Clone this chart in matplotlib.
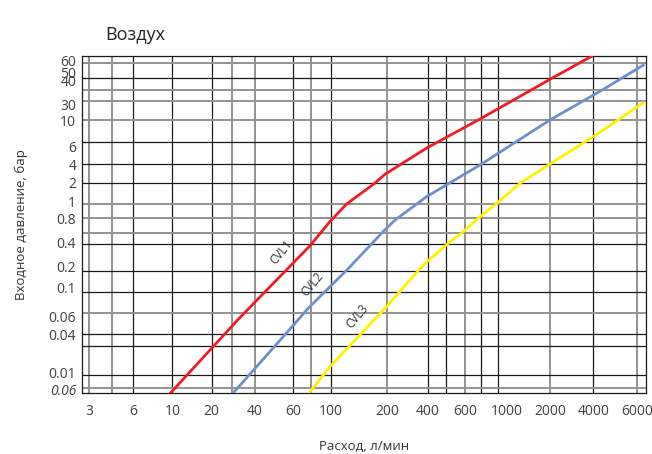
import numpy as np
import matplotlib
matplotlib.use("Agg")
import matplotlib.pyplot as plt

plt.rcParams['font.family'] = ['Open Sans', 'DejaVu Sans']

# ---- data (flow l/min, inlet pressure bar) ----
x_ticks = [3, 6, 10, 20, 40, 60, 100, 200, 400, 600, 1000, 2000, 4000, 6000]
x_tick_labels = ["3", "6", "10", "20", "40", "60", "100", "200", "400", "600",
                 "1000", "2000", "4000", "6000"]
y_ticks = [0.006, 0.01, 0.04, 0.06, 0.1, 0.2, 0.4, 0.8, 1, 2, 4, 6, 10, 30, 40, 50, 60]
y_tick_labels = ["0.06", "0.01", "0.04", "0.06", "0.1", "0.2", "0.4", "0.8", "1",
                 "2", "4", "6", "10", "30", "40", "50", "60"]

cvl1_flow = [9.8, 31, 76, 99, 122, 172, 195, 393, 720, 2000, 3900]
cvl1_pres = [0.0054, 0.057, 0.37, 0.73, 0.97, 1.98, 2.8, 5.8, 11.1, 41.7, 65]

cvl2_flow = [28.3, 56, 74, 99, 122, 191, 229, 393, 720, 2000, 4390, 6340]
cvl2_pres = [0.0054, 0.0415, 0.069, 0.102, 0.18, 0.55, 0.76, 1.2, 4, 10.4, 36.2, 56]

cvl3_flow = [75, 99, 146, 199, 371, 510, 589, 720, 900, 1233, 2000, 4000, 6340]
cvl3_pres = [0.0054, 0.0125, 0.0415, 0.071, 0.212, 0.411, 0.547, 0.817, 0.993,
             1.98, 4.09, 7.27, 30.8]

curve_names = ["CVL1", "CVL2", "CVL3"]
label_flow = [53, 78, 138]
label_pres = [0.307, 0.112, 0.06]

# ---- layout: the axis of the original is not a regular log scale,
# so positions of ticks/grid are given in reference-pixel units ----
x_tick_px = [89, 133.3, 172.3, 211.7, 255, 292.7, 330.7, 387, 427.7, 465, 507,
             550, 593.3, 637.3]
y_tick_px = [389.3, 372.7, 335, 316, 287.3, 267, 242.7, 218.3, 201.5, 183, 165,
             146.5, 120.5, 105, 81, 72, 61]
x_frame_px = (81.7, 646)
y_frame_px = (392.7, 56)

x_grid_gray = [89, 111.7, 232.3, 255, 310.7, 387, 465, 550, 637.3]
x_grid_black = [133.3, 172.3, 211.7, 292.7, 330.7, 427.7, 445.7, 481, 498.3, 593.3]
y_grid_gray = [62.7, 90, 101, 120, 204, 218.3, 233.3, 312.7, 387.7]
y_grid_black = [77.7, 142.3, 163.7, 183.3, 244.3, 270.7, 292.3, 334.3, 346, 375]


def piecewise_log(vals, pos):
    lv = np.log10(np.asarray(vals, float))
    p = np.asarray(pos, float)
    s0 = (p[1] - p[0]) / (lv[1] - lv[0])
    s1 = (p[-1] - p[-2]) / (lv[-1] - lv[-2])

    def fwd(v):
        v = np.log10(np.clip(np.asarray(v, float), 1e-12, None))
        out = np.interp(v, lv, p)
        out = np.where(v < lv[0], p[0] + (v - lv[0]) * s0, out)
        out = np.where(v > lv[-1], p[-1] + (v - lv[-1]) * s1, out)
        return out

    def inv(q):
        q = np.asarray(q, float)
        out = np.interp(q, p, lv)
        out = np.where(q < p[0], lv[0] + (q - p[0]) / s0, out)
        out = np.where(q > p[-1], lv[-1] + (q - p[-1]) / s1, out)
        return 10 ** out

    return fwd, inv


xf, xi = piecewise_log(x_ticks, x_tick_px)
# y in reference pixels grows downward -> flip
yf, yi = piecewise_log(y_ticks, [454 - v for v in y_tick_px])

W, H = 652, 454
fig = plt.figure(figsize=(W / 100, H / 100), dpi=100)
ax = fig.add_axes([x_frame_px[0] / W, (H - y_frame_px[0]) / H,
                   (x_frame_px[1] - x_frame_px[0]) / W,
                   (y_frame_px[0] - y_frame_px[1]) / H])
ax.set_xscale('function', functions=(xf, xi))
ax.set_yscale('function', functions=(yf, yi))
ax.set_xlim(xi(x_frame_px[0]), xi(x_frame_px[1]))
ax.set_ylim(yi(454 - y_frame_px[0]), yi(454 - y_frame_px[1]))

for p in x_grid_gray:
    ax.axvline(xi(p), color='#939393', lw=1.4, zorder=1)
for p in x_grid_black:
    ax.axvline(xi(p), color='#1a1a1a', lw=0.9, zorder=1)
for p in y_grid_gray:
    ax.axhline(yi(454 - p), color='#939393', lw=1.4, zorder=1)
for p in y_grid_black:
    ax.axhline(yi(454 - p), color='#1a1a1a', lw=0.9, zorder=1)

ax.plot(cvl1_flow, cvl1_pres, color='#ee1c25', lw=2.0, zorder=3)
ax.plot(cvl2_flow, cvl2_pres, color='#6d90cc', lw=2.0, zorder=3)
ax.plot(cvl3_flow, cvl3_pres, color='#fff000', lw=2.0, zorder=3)

for name, fx, py in zip(curve_names, label_flow, label_pres):
    ax.text(fx, py, name, rotation=50, ha='center', va='center', fontsize=8.5,
            color='#333333', zorder=4)

ax.set_xticks(x_ticks)
ax.set_xticklabels(x_tick_labels)
ax.set_yticks(y_ticks)
ax.set_yticklabels(y_tick_labels)
ax.minorticks_off()
ax.tick_params(axis='both', length=0, labelsize=10, labelcolor='#404040')
ax.tick_params(axis='x', pad=8)
ax.tick_params(axis='y', pad=4)
ax.get_yticklabels()[0].set_fontstyle('italic')

for sp in ax.spines.values():
    sp.set_color('#1a1a1a')
    sp.set_linewidth(0.9)

ax.set_xlabel("Расход, л/мин", fontsize=9.5, color='#333333', labelpad=15)
ax.set_ylabel("Входное давление, бар", fontsize=9.5, color='#333333', labelpad=15)
fig.text(105 / W, 1 - 35 / H, "Воздух", fontsize=13, color='#222222',
         ha='left', va='center')

fig.savefig("out.png", dpi=100)
